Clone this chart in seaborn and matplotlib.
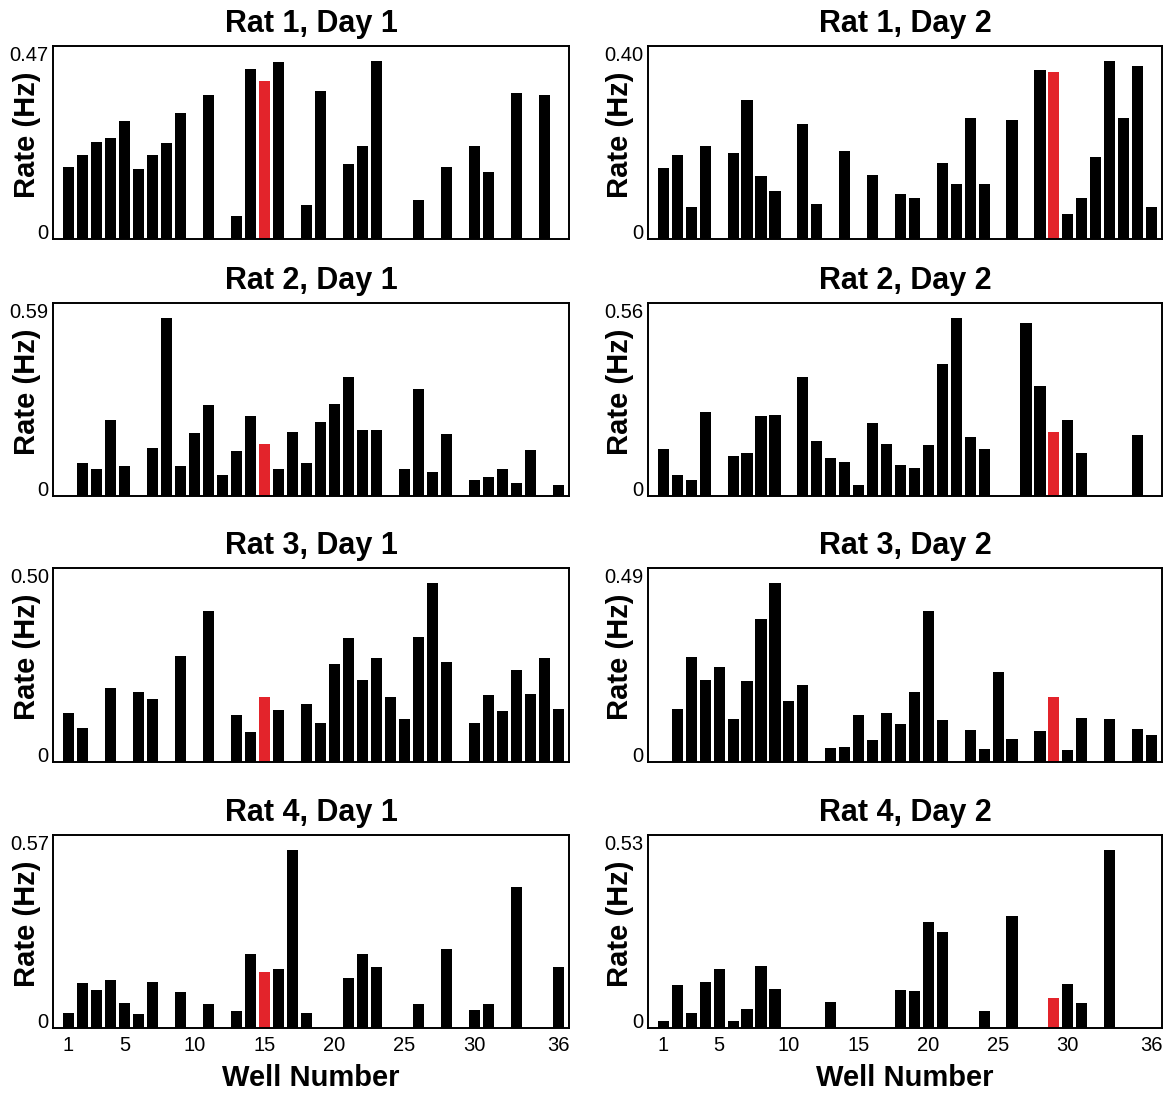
import numpy as np
import pandas as pd
import matplotlib
matplotlib.use("Agg")
import matplotlib.pyplot as plt
import seaborn as sns

# ---------------- data ----------------
titles = ["Rat 1, Day 1", "Rat 1, Day 2", "Rat 2, Day 1", "Rat 2, Day 2",
          "Rat 3, Day 1", "Rat 3, Day 2", "Rat 4, Day 1", "Rat 4, Day 2"]
y_max_labels = [0.47, 0.40, 0.59, 0.56, 0.50, 0.49, 0.57, 0.53]
reward_wells = [15, 29, 15, 29, 15, 29, 15, 29]

r1d1_wells = [1, 2, 3, 4, 5, 6, 7, 8, 9, 11, 13, 14, 15, 16, 18, 19, 21, 22, 23, 26, 28, 30, 31, 33, 35]
r1d1_rates = [0.191, 0.221, 0.256, 0.267, 0.311, 0.185, 0.223, 0.254, 0.334, 0.381, 0.060, 0.448, 0.418,
              0.467, 0.089, 0.392, 0.198, 0.247, 0.470, 0.102, 0.189, 0.245, 0.177, 0.387, 0.381]

r1d2_wells = [1, 2, 3, 4, 6, 7, 8, 9, 11, 12, 14, 16, 18, 19, 21, 22, 23, 24, 26, 28, 29, 30, 31, 32, 33, 34, 35, 36]
r1d2_rates = [0.159, 0.189, 0.073, 0.209, 0.194, 0.313, 0.141, 0.109, 0.259, 0.079, 0.198, 0.144, 0.102, 0.093,
              0.171, 0.123, 0.272, 0.124, 0.267, 0.381, 0.376, 0.056, 0.093, 0.185, 0.400, 0.273, 0.388, 0.073]

r2d1_wells = [2, 3, 4, 5, 7, 8, 9, 10, 11, 12, 13, 14, 15, 16, 17, 18, 19, 20, 21, 22, 23, 25, 26, 27, 28,
              30, 31, 32, 33, 34, 36]
r2d1_rates = [0.111, 0.089, 0.253, 0.099, 0.160, 0.590, 0.099, 0.208, 0.302, 0.070, 0.150, 0.264, 0.174, 0.089,
              0.212, 0.109, 0.246, 0.306, 0.396, 0.218, 0.218, 0.088, 0.354, 0.079, 0.206, 0.053, 0.062, 0.089,
              0.042, 0.151, 0.038]

r2d2_wells = [1, 2, 3, 4, 6, 7, 8, 9, 11, 12, 13, 14, 15, 16, 17, 18, 19, 20, 21, 22, 23, 24, 27, 28, 29, 30, 31, 35]
r2d2_rates = [0.147, 0.065, 0.051, 0.263, 0.126, 0.135, 0.252, 0.254, 0.375, 0.173, 0.121, 0.106, 0.035, 0.229,
              0.164, 0.099, 0.089, 0.159, 0.415, 0.560, 0.185, 0.147, 0.544, 0.347, 0.202, 0.238, 0.136, 0.191]

r3d1_wells = [1, 2, 4, 6, 7, 9, 11, 13, 14, 15, 16, 18, 19, 20, 21, 22, 23, 24, 25, 26, 27, 28,
              30, 31, 32, 33, 34, 35, 36]
r3d1_rates = [0.138, 0.095, 0.208, 0.196, 0.177, 0.297, 0.422, 0.132, 0.085, 0.182, 0.146, 0.161, 0.108, 0.274,
              0.347, 0.229, 0.291, 0.181, 0.119, 0.350, 0.500, 0.279, 0.110, 0.188, 0.144, 0.256, 0.189, 0.290,
              0.148]

r3d2_wells = [2, 3, 4, 5, 6, 7, 8, 9, 10, 11, 13, 14, 15, 16, 17, 18, 19, 20, 21, 23, 24, 25, 26,
              28, 29, 30, 31, 33, 35, 36]
r3d2_rates = [0.144, 0.288, 0.226, 0.260, 0.119, 0.221, 0.391, 0.490, 0.168, 0.211, 0.037, 0.040, 0.129, 0.061,
              0.135, 0.103, 0.193, 0.415, 0.116, 0.087, 0.035, 0.246, 0.063, 0.086, 0.178, 0.033, 0.120, 0.117,
              0.090, 0.075]

r4d1_wells = [1, 2, 3, 4, 5, 6, 7, 9, 11, 13, 14, 15, 16, 17, 18, 21, 22, 23, 26, 28, 30, 31, 33, 36]
r4d1_rates = [0.049, 0.144, 0.122, 0.153, 0.081, 0.046, 0.149, 0.116, 0.078, 0.055, 0.238, 0.180, 0.189, 0.570,
              0.049, 0.160, 0.236, 0.194, 0.076, 0.254, 0.059, 0.076, 0.451, 0.195]

r4d2_wells = [1, 2, 3, 4, 5, 6, 7, 8, 9, 13, 18, 19, 20, 21, 24, 26, 29, 30, 31, 33]
r4d2_rates = [0.021, 0.128, 0.046, 0.138, 0.176, 0.022, 0.057, 0.186, 0.117, 0.076, 0.114, 0.111, 0.315, 0.286,
              0.052, 0.335, 0.088, 0.132, 0.075, 0.530]

panel_wells = [r1d1_wells, r1d2_wells, r2d1_wells, r2d2_wells, r3d1_wells, r3d2_wells, r4d1_wells, r4d2_wells]
panel_rates = [r1d1_rates, r1d2_rates, r2d1_rates, r2d2_rates, r3d1_rates, r3d2_rates, r4d1_rates, r4d2_rates]

x_tick_values = [1, 5, 10, 15, 20, 25, 30, 36]

# ---------------- style ----------------
sns.set_style("white")
plt.rcParams["font.family"] = ["Liberation Sans", "DejaVu Sans"]
plt.rcParams["text.color"] = "black"
plt.rcParams["axes.labelcolor"] = "black"
plt.rcParams["xtick.color"] = "black"
plt.rcParams["ytick.color"] = "black"

W, H = 1170, 1093
fig = plt.figure(figsize=(W / 100, H / 100), dpi=100)

col_x = [(53, 569), (648, 1162)]
row_y = [(46, 239), (303, 496), (568, 762), (835, 1028)]

palette = {"other": "#000000", "reward": "#e3242b"}

for i in range(8):
    r, c = divmod(i, 2)
    x0, x1 = col_x[c]
    yt, yb = row_y[r]
    ax = fig.add_axes([x0 / W, 1 - yb / H, (x1 - x0) / W, (yb - yt) / H])

    df = pd.DataFrame({"well": panel_wells[i], "rate": panel_rates[i]})
    df["kind"] = np.where(df["well"] == reward_wells[i], "reward", "other")

    sns.barplot(data=df, x="well", y="rate", hue="kind", palette=palette,
                native_scale=True, dodge=False, width=0.8, saturation=1,
                errorbar=None, legend=False, edgecolor="none", linewidth=0, ax=ax)

    top = y_max_labels[i]
    ax.set_xlim(-0.1, 36.75)
    ax.set_ylim(0, top * 1.085)

    ax.set_yticks([0, top])
    ax.set_yticklabels(["0", f"{top:.2f}"])
    for lab in ax.get_yticklabels():
        lab.set_va("baseline")
    ax.tick_params(axis="y", length=0, pad=3, labelsize=14.5, colors="black")

    if r == 3:
        ax.set_xticks(x_tick_values)
        ax.set_xticklabels([str(v) for v in x_tick_values])
        ax.tick_params(axis="x", length=0, pad=6, labelsize=14.5, colors="black")
        ax.set_xlabel("Well Number", fontsize=21, fontweight="bold", labelpad=6, color="black")
    else:
        ax.set_xticks([])
        ax.set_xlabel("")

    ax.set_ylabel("")
    ax.text(-0.05 if c == 0 else -0.054, 0.54, "Rate (Hz)", rotation=90,
            ha="center", va="center", fontsize=21, fontweight="bold",
            color="black", transform=ax.transAxes)

    ax.set_title(titles[i], fontsize=22, fontweight="bold", pad=10, color="black")

    for sp in ax.spines.values():
        sp.set_visible(True)
        sp.set_color("black")
        sp.set_linewidth(1.4)
    ax.grid(False)

fig.savefig("out.png", dpi=100)
